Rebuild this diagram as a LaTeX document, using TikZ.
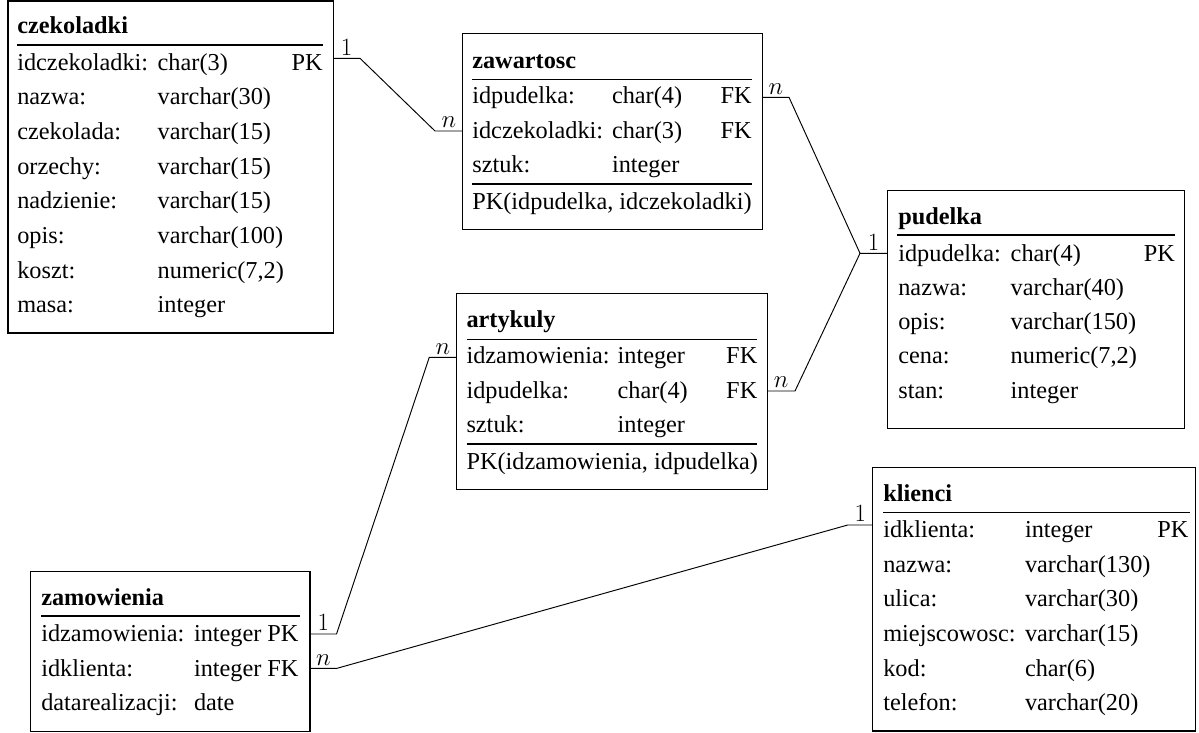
\documentclass[tikz,border=0pt]{standalone}
\usepackage[no-math]{fontspec}
\setmainfont{Liberation Serif}
\begin{document}
\begin{tikzpicture}[x=1pt,y=-1pt,
  every node/.style={inner sep=0pt, outer sep=0pt},
  frame/.style={draw, line width=1.2pt, rectangle, inner sep=0pt, anchor=north west},
  hd/.style={anchor=base west, font=\fontsize{24.3}{29}\selectfont\bfseries},
  fld/.style={anchor=base west, font=\fontsize{24.3}{29}\selectfont},
  key/.style={anchor=base east, font=\fontsize{24.3}{29}\selectfont},
  rule/.style={line width=1.1pt},
  link/.style={line width=0.95pt},
  card/.style={midway, above, inner sep=3.3pt, font=\fontsize{24.88}{30}\selectfont}]
\useasboundingbox (0,0) rectangle (1199,732);

% ---------- czekoladki ----------
\node[frame, minimum width=325.3pt, minimum height=332pt] (czek) at (8,1) {};
\node[hd] (czek-t) at (17.3,33.3) {czekoladki};
\draw[rule] (17.3,45) -- (323.3,45);
\node[fld] (czek-n1) at (17.3,70)    {idczekoladki:};
\node[fld] (czek-d1) at (157.7,70)   {char(3)};
\node[key] (czek-k1) at (322.7,70)   {PK};
\node[fld] (czek-n2) at (17.3,104.7) {nazwa:};
\node[fld] (czek-d2) at (157.7,104.7){varchar(30)};
\node[fld] (czek-n3) at (17.3,139.4) {czekolada:};
\node[fld] (czek-d3) at (157.7,139.4){varchar(15)};
\node[fld] (czek-n4) at (17.3,174.1) {orzechy:};
\node[fld] (czek-d4) at (157.7,174.1){varchar(15)};
\node[fld] (czek-n5) at (17.3,208.8) {nadzienie:};
\node[fld] (czek-d5) at (157.7,208.8){varchar(15)};
\node[fld] (czek-n6) at (17.3,243.5) {opis:};
\node[fld] (czek-d6) at (157.7,243.5){varchar(100)};
\node[fld] (czek-n7) at (17.3,278.2) {koszt:};
\node[fld] (czek-d7) at (157.7,278.2){numeric(7,2)};
\node[fld] (czek-n8) at (17.3,312.9) {masa:};
\node[fld] (czek-d8) at (157.7,312.9){integer};

% ---------- zawartosc ----------
\node[frame, minimum width=300pt, minimum height=196pt] (zaw) at (462.7,33.3) {};
\node[hd] (zaw-t) at (472.3,68.3) {zawartosc};
\draw[rule] (472.3,79.3) -- (751.7,79.3);
\node[fld] (zaw-n1) at (472.3,103.3) {idpudelka:};
\node[fld] (zaw-d1) at (612,103.3)   {char(4)};
\node[key] (zaw-k1) at (751.7,103.3) {FK};
\node[fld] (zaw-n2) at (472.3,138)   {idczekoladki:};
\node[fld] (zaw-d2) at (612,138)     {char(3)};
\node[key] (zaw-k2) at (751.7,138)   {FK};
\node[fld] (zaw-n3) at (472.3,172.7) {sztuk:};
\node[fld] (zaw-d3) at (612,172.7)   {integer};
\draw[rule] (472.3,184) -- (751.7,184);
\node[fld] (zaw-pk) at (472.3,209)   {PK(idpudelka, idczekoladki)};

% ---------- pudelka ----------
\node[frame, minimum width=297pt, minimum height=237.6pt] (pud) at (887.3,190.7) {};
\node[hd] (pud-t) at (898.3,224.3) {pudelka};
\draw[rule] (897.3,235) -- (1175,235);
\node[fld] (pud-n1) at (898.3,261)   {idpudelka:};
\node[fld] (pud-d1) at (1010.7,261)  {char(4)};
\node[key] (pud-k1) at (1175,261)    {PK};
\node[fld] (pud-n2) at (898.3,295.3) {nazwa:};
\node[fld] (pud-d2) at (1010.7,295.3){varchar(40)};
\node[fld] (pud-n3) at (898.3,329.6) {opis:};
\node[fld] (pud-d3) at (1010.7,329.6){varchar(150)};
\node[fld] (pud-n4) at (898.3,363.9) {cena:};
\node[fld] (pud-d4) at (1010.7,363.9){numeric(7,2)};
\node[fld] (pud-n5) at (898.3,398.2) {stan:};
\node[fld] (pud-d5) at (1010.7,398.2){integer};

% ---------- artykuly ----------
\node[frame, minimum width=310.8pt, minimum height=196pt] (art) at (456.3,293.3) {};
\node[hd] (art-t) at (466.5,327.3) {artykuly};
\draw[rule] (466.5,339.3) -- (757.3,339.3);
\node[fld] (art-n1) at (466.5,363.3) {idzamowienia:};
\node[fld] (art-d1) at (617.6,363.3) {integer};
\node[key] (art-k1) at (757.3,363.3) {FK};
\node[fld] (art-n2) at (466.5,398)   {idpudelka:};
\node[fld] (art-d2) at (617.6,398)   {char(4)};
\node[key] (art-k2) at (757.3,398)   {FK};
\node[fld] (art-n3) at (466.5,432.7) {sztuk:};
\node[fld] (art-d3) at (617.6,432.7) {integer};
\draw[rule] (466.5,444) -- (757.3,444);
\node[fld] (art-pk) at (466.5,469.5) {PK(idzamowienia, idpudelka)};

% ---------- zamowienia ----------
\node[frame, minimum width=279.4pt, minimum height=159.5pt] (zam) at (30.6,571.7) {};
\node[hd] (zam-t) at (41.3,605) {zamowienia};
\draw[rule] (41.3,616) -- (300,616);
\node[fld] (zam-n1) at (41.3,641.7) {idzamowienia:};
\node[fld] (zam-d1) at (194,641.7)  {integer};
\node[key] (zam-k1) at (298.5,641.7){PK};
\node[fld] (zam-n2) at (41.3,676)   {idklienta:};
\node[fld] (zam-d2) at (194,676)    {integer};
\node[key] (zam-k2) at (298.5,676)  {FK};
\node[fld] (zam-n3) at (41.3,710.4) {datarealizacji:};
\node[fld] (zam-d3) at (194,710.4)  {date};

% ---------- klienci ----------
\node[frame, minimum width=323pt, minimum height=263.7pt] (kli) at (872.7,467.3) {};
\node[hd] (kli-t) at (883.3,501.7) {klienci};
\draw[rule] (883.3,512.3) -- (1190,512.3);
\node[fld] (kli-n1) at (883.3,537.3) {idklienta:};
\node[fld] (kli-d1) at (1025,537.3)  {integer};
\node[key] (kli-k1) at (1188.3,537.3){PK};
\node[fld] (kli-n2) at (883.3,572)   {nazwa:};
\node[fld] (kli-d2) at (1025,572)    {varchar(130)};
\node[fld] (kli-n3) at (883.3,606.7) {ulica:};
\node[fld] (kli-d3) at (1025,606.7)  {varchar(30)};
\node[fld] (kli-n4) at (883.3,641.4) {miejscowosc:};
\node[fld] (kli-d4) at (1025,641.4)  {varchar(15)};
\node[fld] (kli-n5) at (883.3,676.1) {kod:};
\node[fld] (kli-d5) at (1025,676.1)  {char(6)};
\node[fld] (kli-n6) at (883.3,710.8) {telefon:};
\node[fld] (kli-d6) at (1025,710.8)  {varchar(20)};

% ---------- relationships ----------
\coordinate (b1) at (360,58.3);
\coordinate (b2) at (435,131);
\coordinate (b3) at (789,97.3);
\coordinate (j1) at (860,253.3);
\coordinate (b4) at (795,391);
\coordinate (b5) at (336.5,634);
\coordinate (b6) at (429.3,357.3);
\coordinate (b7) at (337,668.3);
\coordinate (b8) at (847.7,525);

\draw[link] (czek.east |- b1) -- node[card] {$1$} (b1) -- (b2)
            -- node[card] {$n$} (zaw.west |- b2);
\draw[link] (zaw.east |- b3) -- node[card] {$n$} (b3) -- (j1)
            -- node[card] {$1$} (pud.west |- j1);
\draw[link] (art.east |- b4) -- node[card] {$n$} (b4) -- (j1);
\draw[link] (zam.east |- b5) -- node[card] {$1$} (b5) -- (b6)
            -- node[card] {$n$} (art.west |- b6);
\draw[link] (zam.east |- b7) -- node[card] {$n$} (b7) -- (b8)
            -- node[card] {$1$} (kli.west |- b8);
\end{tikzpicture}
\end{document}
